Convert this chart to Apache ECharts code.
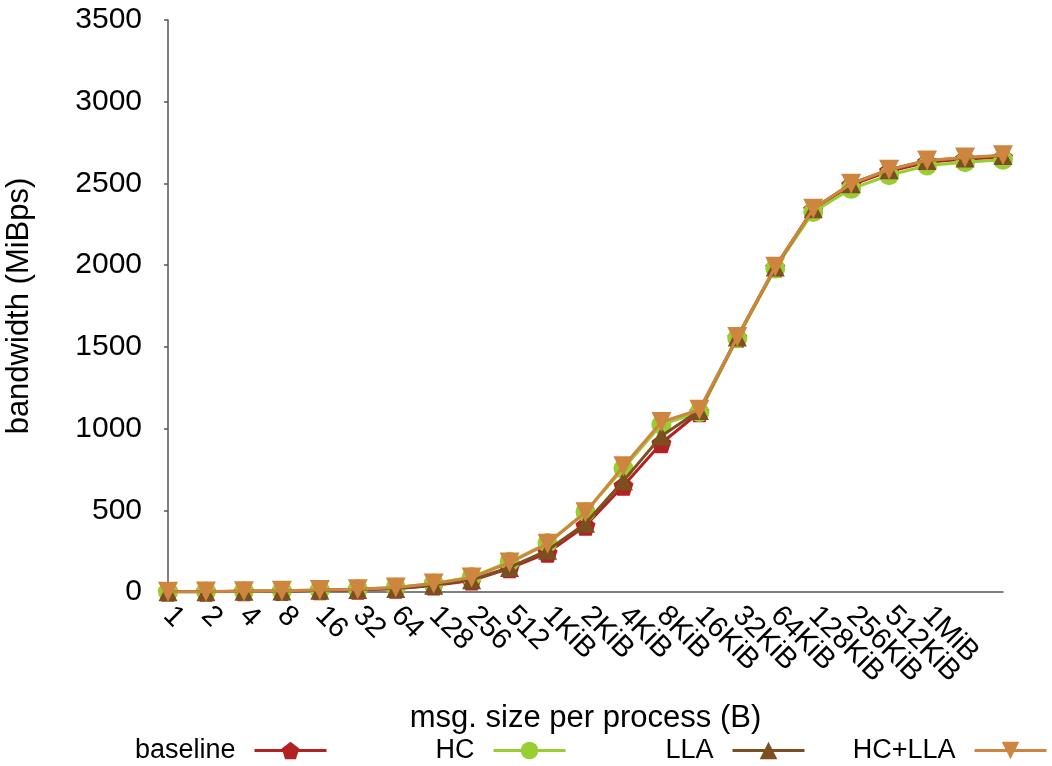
<!DOCTYPE html>
<html>
<head>
<meta charset="utf-8">
<script src="https://cdn.jsdelivr.net/npm/echarts@6/dist/echarts.min.js"></script>
<style>
html,body{margin:0;padding:0;background:#fff;}
#chart{width:1052px;height:766px;}
</style>
</head>
<body>
<div id="chart"></div>
<script>
// message sizes (all plotted points); only the first 21 carry a visible tick label
const sizes = ['1','2','4','8','16','32','64','128','256','512','1KiB','2KiB','4KiB','8KiB','16KiB','32KiB','64KiB','128KiB','256KiB','512KiB','1MiB','2MiB','4MiB'];
const tickLabels = ['1','2','4','8','16','32','64','128','256','512','1KiB','2KiB','4KiB','8KiB','16KiB','32KiB','64KiB','128KiB','256KiB','512KiB','1MiB','',''];

const baseline = [1, 2, 4, 6, 10, 14, 20, 40, 70, 145, 240, 405, 650, 910, 1100, 1555, 1985, 2340, 2490, 2575, 2630, 2650, 2660];
const hc       = [2, 3, 5, 7, 12, 18, 28, 52, 92, 185, 300, 490, 755, 1025, 1100, 1552, 1980, 2325, 2467, 2550, 2610, 2630, 2645];
const lla      = [1, 2, 4, 6, 10, 15, 22, 42, 75, 150, 255, 420, 680, 955, 1110, 1560, 1988, 2345, 2498, 2584, 2641, 2655, 2671];
const hcLla    = [2, 3, 5, 7, 12, 17, 27, 52, 88, 180, 295, 488, 770, 1040, 1115, 1560, 1990, 2345, 2498, 2584, 2641, 2658, 2672];

const yTicks = [0, 500, 1000, 1500, 2000, 2500, 3000, 3500];
const seriesNames = ['baseline', 'HC', 'LLA', 'HC+LLA'];

const FONT = 'Liberation Sans, Arial, Helvetica, sans-serif';
const colors = ['#B22222', '#9ACD32', '#7B4F1F', '#CD853F'];
const pentagon = 'path://M0,-1 L0.951,-0.309 L0.588,0.809 L-0.588,0.809 L-0.951,-0.309 Z';
const downTri = 'path://M-1,-0.9 L1,-0.9 L0,0.9 Z';
const symbols = [pentagon, 'circle', 'triangle', downTri];
const symSizes = [20, 20, 19, 20];
const dataSets = [baseline, hc, lla, hcLla];
const legendRight = [724, 485, 246, 4];

const chart = echarts.init(document.getElementById('chart'), null, {renderer: 'canvas'});

const option = {
  backgroundColor: '#ffffff',
  animation: false,
  color: colors,
  textStyle: {fontFamily: FONT, color: '#000'},
  grid: {left: 168, right: 49, top: 20, bottom: 174, containLabel: false, outerBoundsMode: 'none'},
  legend: seriesNames.map((n, i) => ({
    data: [n],
    right: legendRight[i],
    top: 737,
    padding: 0,
    align: 'right',
    itemWidth: 72,
    itemHeight: 22,
    lineStyle: {width: 3},
    textStyle: {fontFamily: FONT, fontSize: 27, color: '#000', padding: [0, 14, 0, 0]},
    selectedMode: false
  })),
  xAxis: {
    type: 'category',
    data: tickLabels,
    boundaryGap: false,
    name: 'msg. size per process (B)',
    nameLocation: 'middle',
    nameGap: 111,
    nameTextStyle: {fontFamily: FONT, fontSize: 31, color: '#000'},
    axisLine: {show: true, lineStyle: {color: '#555', width: 1.5}},
    axisTick: {show: false},
    splitLine: {show: false},
    axisLabel: {
      interval: 0,
      rotate: -45,
      margin: 19,
      fontFamily: FONT,
      fontSize: 29,
      color: '#000'
    }
  },
  yAxis: {
    type: 'value',
    min: yTicks[0],
    max: yTicks[yTicks.length - 1],
    interval: yTicks[1] - yTicks[0],
    name: 'bandwidth (MiBps)',
    nameLocation: 'middle',
    nameGap: 133,
    nameRotate: 90,
    nameTextStyle: {fontFamily: FONT, fontSize: 31, color: '#000'},
    axisLine: {show: true, lineStyle: {color: '#555', width: 1.5}},
    axisTick: {show: true, inside: false, length: 4, lineStyle: {color: '#555', width: 1.5}},
    splitLine: {show: false},
    axisLabel: {margin: 26, fontFamily: FONT, fontSize: 30, color: '#000', formatter: v => String(v)}
  },
  series: seriesNames.map((n, i) => ({
    name: n,
    type: 'line',
    data: dataSets[i],
    symbol: symbols[i],
    symbolSize: symSizes[i],
    showAllSymbol: true,
    lineStyle: {color: colors[i], width: 3},
    itemStyle: {color: colors[i], borderWidth: 0},
    z: 2 + i
  }))
};

chart.setOption(option);
</script>
</body>
</html>
